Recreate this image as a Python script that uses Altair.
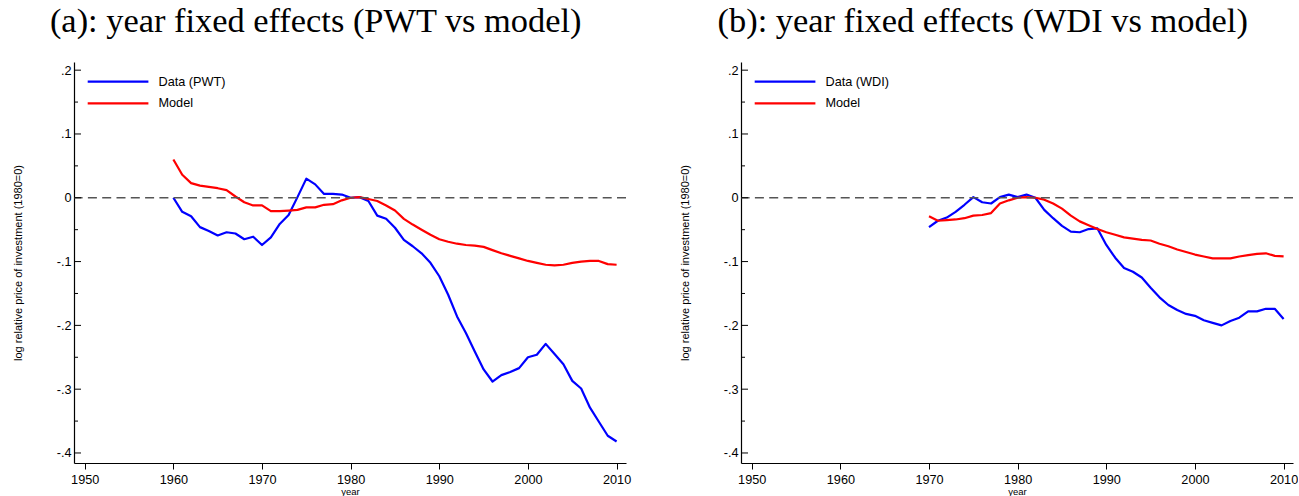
import altair as alt
import pandas as pd

# ---- series values -------------------------------------------------------
pwt_years = list(range(1960, 2011))
pwt_data = [
    0.000, -0.022, -0.029, -0.046, -0.052, -0.059, -0.054, -0.056, -0.065, -0.061,
    -0.074, -0.062, -0.041, -0.027, 0.001, 0.030, 0.021, 0.006, 0.006, 0.005,
    0.000, 0.001, -0.005, -0.028, -0.033, -0.047, -0.066, -0.076, -0.087, -0.102,
    -0.123, -0.152, -0.186, -0.212, -0.241, -0.269, -0.288, -0.278, -0.273, -0.267,
    -0.250, -0.246, -0.229, -0.245, -0.261, -0.287, -0.299, -0.329, -0.351, -0.373,
    -0.382,
]
pwt_model = [
    0.060, 0.036, 0.023, 0.019, 0.017, 0.015, 0.012, 0.002, -0.007, -0.012,
    -0.012, -0.021, -0.021, -0.020, -0.019, -0.015, -0.015, -0.011, -0.010, -0.004,
    0.000, 0.001, -0.002, -0.005, -0.012, -0.020, -0.033, -0.042, -0.050, -0.058,
    -0.065, -0.069, -0.072, -0.074, -0.075, -0.077, -0.082, -0.087, -0.091, -0.095,
    -0.099, -0.102, -0.105, -0.106, -0.105, -0.102, -0.100, -0.099, -0.099, -0.104,
    -0.105,
]

wdi_years = list(range(1970, 2011))
wdi_data = [
    -0.046, -0.036, -0.031, -0.022, -0.011, 0.001, -0.007, -0.009, 0.001, 0.005,
    0.001, 0.005, 0.000, -0.019, -0.032, -0.044, -0.053, -0.054, -0.049, -0.048,
    -0.074, -0.094, -0.110, -0.116, -0.125, -0.141, -0.156, -0.168, -0.176, -0.182,
    -0.185, -0.192, -0.196, -0.200, -0.193, -0.188, -0.178, -0.178, -0.174, -0.174,
    -0.190,
]
wdi_model = [
    -0.029, -0.036, -0.035, -0.034, -0.032, -0.028, -0.027, -0.024, -0.009, -0.004,
    0.000, 0.001, 0.000, -0.003, -0.009, -0.017, -0.028, -0.037, -0.043, -0.049,
    -0.054, -0.058, -0.062, -0.064, -0.066, -0.067, -0.072, -0.076, -0.081, -0.085,
    -0.089, -0.092, -0.095, -0.095, -0.095, -0.092, -0.090, -0.088, -0.087, -0.091,
    -0.092,
]

# ---- axis ticks ------------------------------------------------------------
x_ticks = [1950, 1960, 1970, 1980, 1990, 2000, 2010]
y_major = [-0.4, -0.3, -0.2, -0.1, 0.0, 0.1, 0.2]
y_minor = [-0.35, -0.25, -0.15, -0.05, 0.05, 0.15]

W, H = 552, 401
X_DOMAIN = [1948.79, 2011.06]
Y_DOMAIN = [-0.4157, 0.2128]
SANS = "Liberation Sans"
SERIF = "Liberation Serif"
TICK_FS = 12.7

x_scale = alt.Scale(domain=X_DOMAIN, nice=False, zero=False)
y_scale = alt.Scale(domain=Y_DOMAIN, nice=False, zero=False)
color_scale = alt.Scale(domain=["Data", "Model"], range=["#0000ff", "#ff0000"])

y_label_expr = (
    "datum.value == 0 ? '0' : (datum.value < 0 ? '-.' : '.') + round(abs(datum.value) * 10)"
)


def panel(years, data_vals, model_vals, data_label, title, anchor=False):
    df = pd.DataFrame(
        {
            "year": years * 2,
            "value": data_vals + model_vals,
            "series": ["Data"] * len(years) + ["Model"] * len(years),
        }
    )

    lines = (
        alt.Chart(df)
        .mark_line(strokeWidth=2.2, strokeJoin="round")
        .encode(
            x=alt.X(
                "year:Q",
                scale=x_scale,
                axis=alt.Axis(
                    values=x_ticks,
                    format="d",
                    labelFontSize=TICK_FS,
                    title="year",
                    titleFontSize=9.5,
                    titleBaseline="middle",
                    titleY=28.5,
                    tickSize=6,
                    labelPadding=4,
                    grid=False,
                ),
            ),
            y=alt.Y(
                "value:Q",
                scale=y_scale,
                axis=alt.Axis(
                    values=y_major,
                    labelExpr=y_label_expr,
                    labelFontSize=TICK_FS,
                    ticks=False,
                    labelPadding=3,
                    grid=False,
                    title="log relative price of investment (1980=0)",
                    titleFontSize=11,
                    titleAngle=270,
                    titleBaseline="middle",
                    titleAlign="center",
                    titleX=-55.3,
                    titleY=H / 2,
                ),
            ),
            color=alt.Color("series:N", scale=color_scale, legend=None),
            detail="series:N",
        )
    )

    zero = (
        alt.Chart(pd.DataFrame({"v": [0.0]}))
        .mark_rule(color="#555555", strokeWidth=1.3, strokeDash=[9, 5.3])
        .encode(y=alt.Y("v:Q", scale=y_scale))
    )

    major = (
        alt.Chart(pd.DataFrame({"v": y_major}))
        .mark_rule(color="#000000", strokeWidth=1)
        .encode(y=alt.Y("v:Q", scale=y_scale), x=alt.value(0), x2=alt.value(7))
    )
    minor = (
        alt.Chart(pd.DataFrame({"v": y_minor}))
        .mark_rule(color="#000000", strokeWidth=1)
        .encode(y=alt.Y("v:Q", scale=y_scale), x=alt.value(0), x2=alt.value(4))
    )

    key_data = (
        alt.Chart()
        .mark_rule(color="#0000ff", strokeWidth=2.2)
        .encode(x=alt.value(13.7), x2=alt.value(74.4), y=alt.value(19.7))
    )
    key_model = (
        alt.Chart()
        .mark_rule(color="#ff0000", strokeWidth=2.2)
        .encode(x=alt.value(13.7), x2=alt.value(74.4), y=alt.value(41.3))
    )
    key_data_txt = (
        alt.Chart()
        .mark_text(align="left", baseline="middle", font=SANS, fontSize=12.7, color="#000000")
        .encode(x=alt.value(84.5), y=alt.value(19.7), text=alt.value(data_label))
    )
    key_model_txt = (
        alt.Chart()
        .mark_text(align="left", baseline="middle", font=SANS, fontSize=12.7, color="#000000")
        .encode(x=alt.value(84.5), y=alt.value(41.3), text=alt.value("Model"))
    )

    # panel heading, set above the plot area
    heading = (
        alt.Chart()
        .mark_text(align="center", baseline="middle", font=SERIF, fontSize=34.4,
                   fontWeight="normal", color="#000000")
        .encode(x=alt.value(241.7), y=alt.value(-40), text=alt.value(title))
    )

    layers = [lines, zero, major, minor, key_data, key_model, key_data_txt, key_model_txt, heading]
    if anchor:
        # transparent marker fixing the top-left corner of the whole figure
        corner = (
            alt.Chart()
            .mark_rule(strokeOpacity=0, strokeWidth=0.001)
            .encode(x=alt.value(-73.3), x2=alt.value(-73.3), y=alt.value(-62), y2=alt.value(-61))
        )
        layers.append(corner)

    return alt.layer(*layers).properties(width=W, height=H)


left = panel(pwt_years, pwt_data, pwt_model, "Data (PWT)",
             "(a): year fixed effects (PWT vs model)", anchor=True)
right = panel(wdi_years, wdi_data, wdi_model, "Data (WDI)",
              "(b): year fixed effects (WDI vs model)")

chart = (
    alt.hconcat(left, right, spacing=115, bounds="flush")
    .properties(padding=0, background="white")
    .configure_view(stroke=None)
    .configure_axis(
        labelFont=SANS,
        labelFontSize=TICK_FS,
        labelColor="#000000",
        titleFont=SANS,
        titleFontWeight="normal",
        titleColor="#000000",
        domainColor="#000000",
        domainWidth=1.2,
        tickColor="#000000",
        tickWidth=1,
    )
)

chart.save("out.html", embed_options={"renderer": "svg", "actions": False})
